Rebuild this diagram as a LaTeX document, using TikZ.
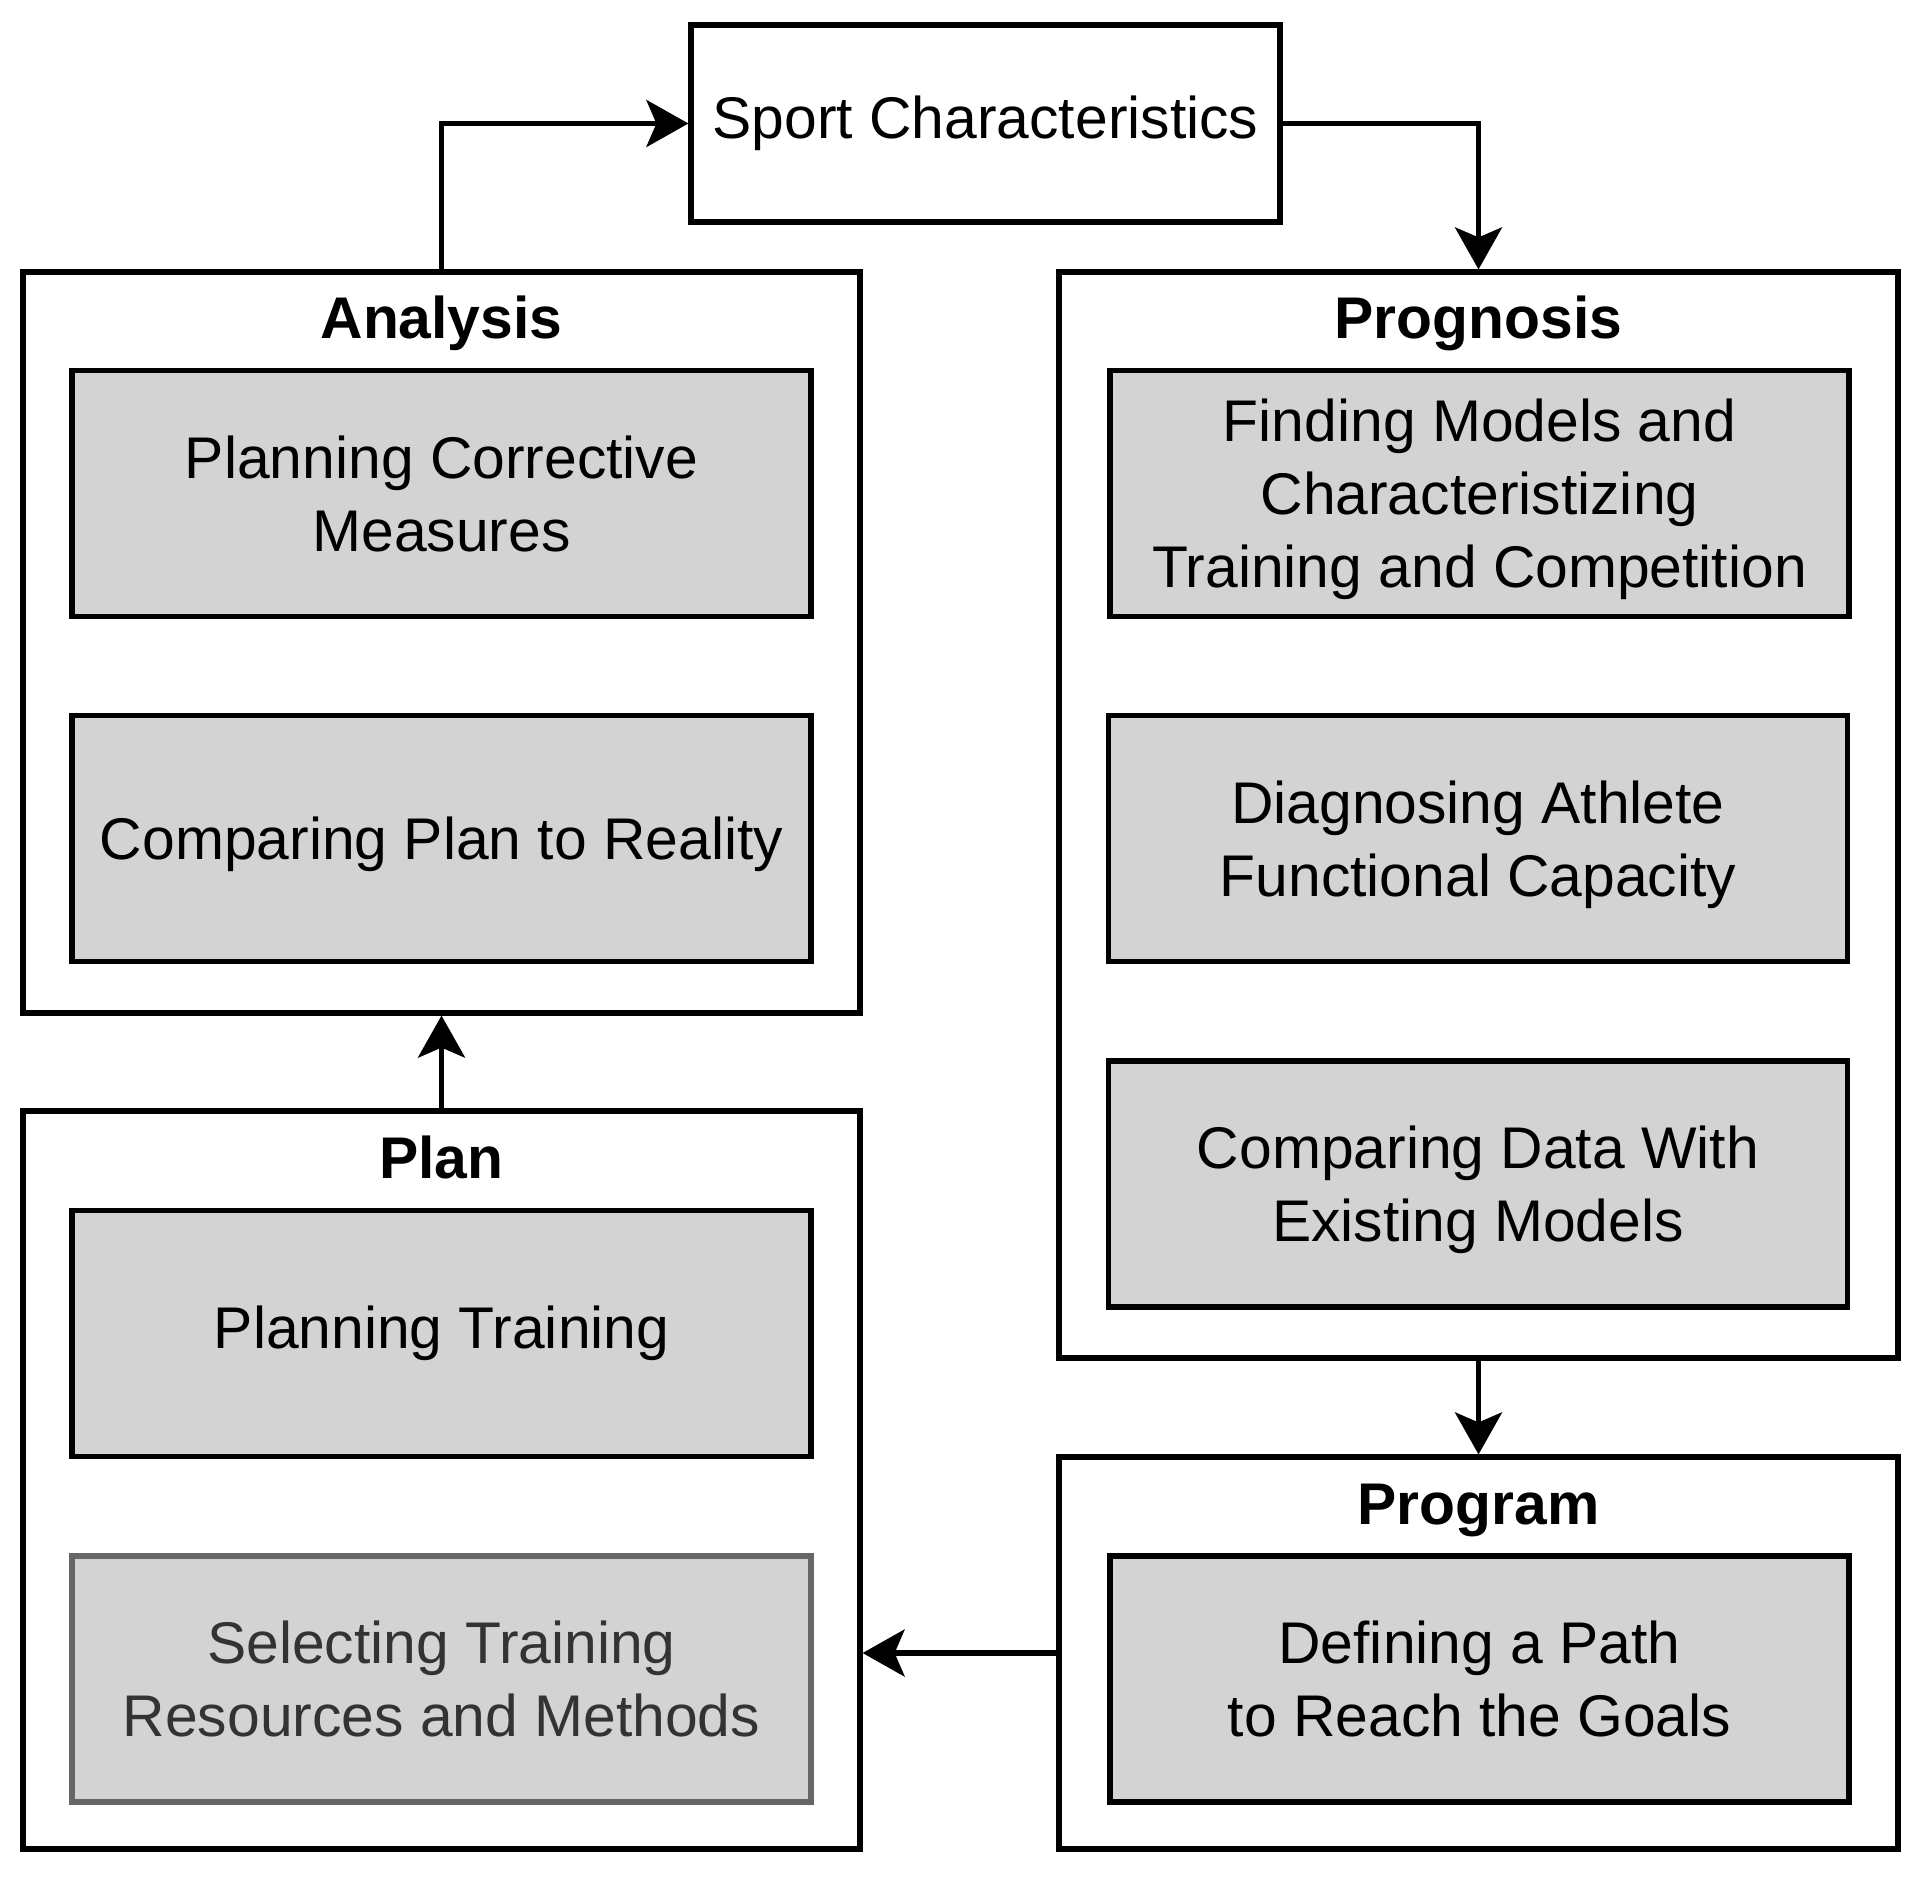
\documentclass[tikz,border=0pt]{standalone}
\usepackage{fontspec}
\setmainfont{Liberation Sans}
\usetikzlibrary{arrows.meta}
\definecolor{boxfill}{HTML}{D3D3D3}
\definecolor{dimborder}{HTML}{666666}
\definecolor{dimtext}{HTML}{333333}
\newcommand\topstrut{\rule{0pt}{27.5pt}}
\tikzset{
  lw/.style={line width=2.6pt},
  outerbox/.style={lw, draw=black, fill=white, rectangle, inner sep=0pt},
  innerbox/.style={lw, draw=black, fill=boxfill, rectangle, inner sep=0pt,
    minimum width=369.5pt, minimum height=123pt, align=center,
    font=\fontsize{29.4}{36.5}\selectfont},
  dimbox/.style={innerbox, draw=dimborder, text=dimtext},
  titletext/.style={anchor=base, inner sep=0pt, font=\fontsize{29.4}{36.5}\selectfont\bfseries},
  conn/.style={lw, -{Stealth[length=21pt, width=23.5pt, inset=5pt]}}
}
\begin{document}
\begin{tikzpicture}[x=0.5pt, y=-0.5pt]
\useasboundingbox (0,0) rectangle (1920,1877);
% outer boxes
\node[outerbox, minimum width=294.5pt, minimum height=98.5pt, font=\fontsize{29.4}{36.5}\selectfont] (sport) at (985.5,123.5) {Sport Characteristics};
\node[outerbox, minimum width=418.5pt, minimum height=370.5pt] (analysis) at (441.5,642.5) {};
\node[outerbox, minimum width=418.5pt, minimum height=369pt] (plan) at (441.5,1480) {};
\node[outerbox, minimum width=419.5pt, minimum height=543pt] (prognosis) at (1478.5,815) {};
\node[outerbox, minimum width=419.5pt, minimum height=196pt] (program) at (1478.5,1653) {};
% titles
\node[titletext] (analysisT) at (441.5,339) {Analysis};
\node[titletext] (prognosisT) at (1478.5,339) {Prognosis};
\node[titletext] (planT) at (441.5,1178) {Plan};
\node[titletext] (programT) at (1478.5,1524) {Program};
% inner boxes
\node[innerbox] (corrective) at (441.5,493.5) {Planning Corrective\\Measures};
\node[innerbox] (comparing) at (441.5,838.5) {\topstrut Comparing Plan to Reality};
\node[innerbox] (training) at (441.5,1333.5) {Planning Training};
\node[dimbox] (selecting) at (441.5,1679) {Selecting Training\\Resources and Methods};
\node[innerbox] (finding) at (1479.5,493.5) {\topstrut Finding Models and\\Characteristizing\\Training and Competition};
\node[innerbox] (diagnosing) at (1478,838.5) {\topstrut Diagnosing Athlete\\Functional Capacity};
\node[innerbox] (comparedata) at (1478,1184) {\topstrut Comparing Data With\\Existing Models};
\node[innerbox] (defining) at (1479.5,1679) {Defining a Path\\to Reach the Goals};
% connectors
\draw[conn] (analysis.north) |- (sport.west);
\draw[conn] (sport.east) -| (prognosis.north);
\draw[conn] (plan.north) -- (analysis.south);
\draw[conn] (prognosis.south) -- (program.north);
\draw[conn] (program.west) -- (program.west -| plan.east);
\end{tikzpicture}
\end{document}
